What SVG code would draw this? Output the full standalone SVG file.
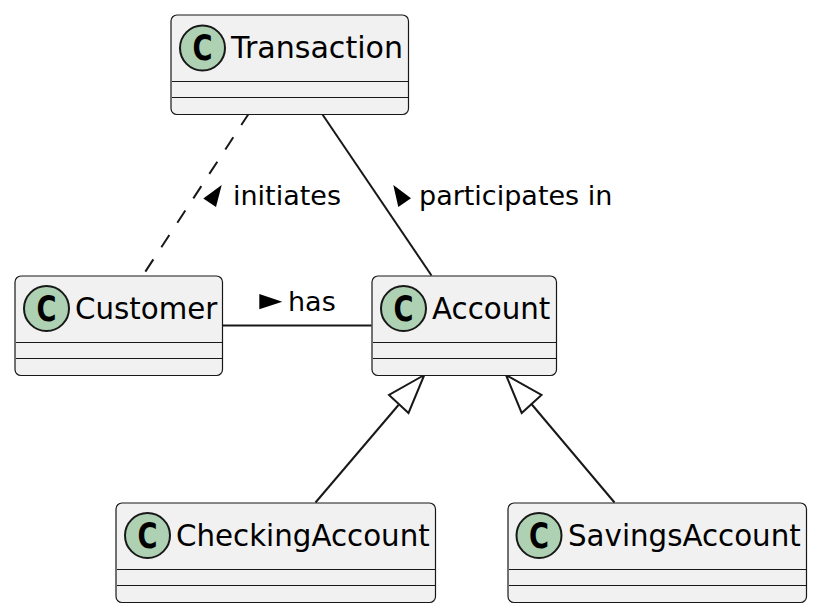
<svg xmlns="http://www.w3.org/2000/svg" width="818" height="614" viewBox="0 0 818 614">
<style>
.box{fill:#F1F1F1;stroke:#181818;stroke-width:1.200}
.div{stroke:#181818;stroke-width:1}
.spot{fill:#ADD1B2;stroke:#181818;stroke-width:2}
.c{font-family:"DejaVu Sans",sans-serif;font-weight:bold;font-size:35px;fill:#000;text-anchor:middle}
.name{font-family:"DejaVu Sans",sans-serif;font-size:29.300px;fill:#000}
.lab{font-family:"DejaVu Sans",sans-serif;font-size:27px;fill:#000}
.edge{fill:none;stroke:#181818;stroke-width:2}
.head{fill:none;stroke:#181818;stroke-width:2}
</style>
<rect width="818" height="614" fill="#fff"/>
<g id="connectors">
<path class="edge" stroke-dasharray="14.600 14.600" stroke-dashoffset="2" d="M248.200 114.500L142.500 276"/>
<path class="edge" d="M322.500 114.500L431.500 275.500"/>
<path class="edge" d="M222.500 325.500H371.500"/>
<path class="edge" d="M315.500 502.500L398.500 405"/>
<path class="head" d="M424.300 375L389 395L408.500 413Z"/>
<path class="edge" d="M614.500 502.500L531 403.500"/>
<path class="head" d="M506 375L521.700 413L541.500 395Z"/>
<path d="M203.300 198.500L221.700 185L216 207Z" fill="#000"/>
<path d="M393.300 185L411 198.300L398.300 207Z" fill="#000"/>
<path d="M259.300 294L282.300 301.700L259.300 309.300Z" fill="#000"/>
<text class="lab" x="233" y="205">initiates</text>
<text class="lab" x="419" y="205">participates in</text>
<text class="lab" x="288" y="311">has</text>
</g>
<g id="Transaction">
<rect class="box" x="171" y="15" width="237.500" height="99.500" rx="6"/>
<circle class="spot" cx="202.500" cy="48" r="22.500"/>
<text class="c" x="202.500" y="60" textLength="20" lengthAdjust="spacingAndGlyphs">C</text>
<text class="name" x="231" y="58" textLength="172" lengthAdjust="spacingAndGlyphs">Transaction</text>
<path class="div" d="M172 81.500H408M172 97.500H408"/>
</g>
<g id="Customer">
<rect class="box" x="15" y="276" width="207.500" height="99.500" rx="6"/>
<circle class="spot" cx="46.500" cy="308.500" r="22.500"/>
<text class="c" x="46.500" y="321" textLength="20" lengthAdjust="spacingAndGlyphs">C</text>
<text class="name" x="75" y="319">Customer</text>
<path class="div" d="M16 342.500H222M16 358.500H222"/>
</g>
<g id="Account">
<rect class="box" x="372" y="276" width="184.500" height="99.500" rx="6"/>
<circle class="spot" cx="403.500" cy="308.500" r="22.500"/>
<text class="c" x="403.500" y="321" textLength="20" lengthAdjust="spacingAndGlyphs">C</text>
<text class="name" x="432" y="319">Account</text>
<path class="div" d="M373 342.500H556M373 358.500H556"/>
</g>
<g id="CheckingAccount">
<rect class="box" x="116" y="503" width="319.500" height="99.500" rx="6"/>
<circle class="spot" cx="147.500" cy="535.500" r="22.500"/>
<text class="c" x="147.500" y="548" textLength="20" lengthAdjust="spacingAndGlyphs">C</text>
<text class="name" x="176" y="546">CheckingAccount</text>
<path class="div" d="M117 569.500H435M117 585.500H435"/>
</g>
<g id="SavingsAccount">
<rect class="box" x="508" y="503" width="298.500" height="99.500" rx="6"/>
<circle class="spot" cx="539" cy="535.500" r="22.500"/>
<text class="c" x="539" y="548" textLength="20" lengthAdjust="spacingAndGlyphs">C</text>
<text class="name" x="568" y="546">SavingsAccount</text>
<path class="div" d="M509 569.500H806M509 585.500H806"/>
</g>
</svg>
